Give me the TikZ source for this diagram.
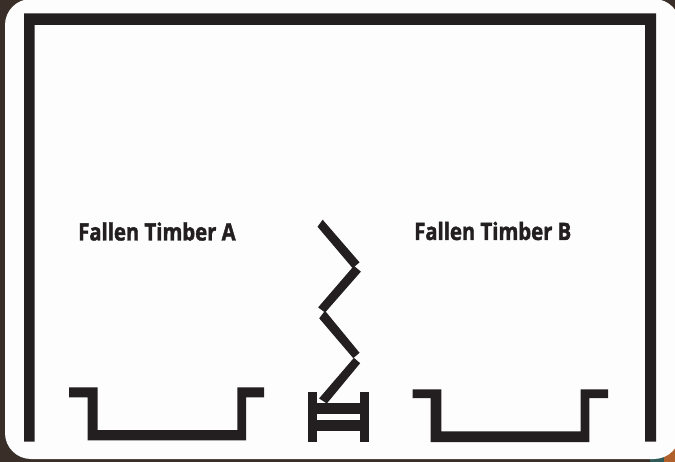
\documentclass[tikz,border=0pt]{standalone}
\usepackage{fontspec}
\setmainfont{Open Sans}
\newfontfamily\labelfont[FakeStretch=0.845,FakeBold=1.6]{Open Sans Bold}
\definecolor{ink}{HTML}{231F20}
\definecolor{bgdark}{HTML}{3A2E28}
\definecolor{paper}{HTML}{FDFDFD}
\definecolor{rust}{HTML}{B0602A}
\definecolor{tealdark}{HTML}{2F5A58}
\tikzset{
  solid ink/.style={fill=ink,draw=ink,line width=1.2pt,line join=miter},
  label text/.style={inner sep=0pt,anchor=base west,text=ink,font=\fontsize{24pt}{28pt}\labelfont}
}
\begin{document}
\begin{tikzpicture}[x=1pt,y=-1pt]
\useasboundingbox (0,0) rectangle (675,462);
\fill[bgdark] (0,0) rectangle (675,462);
\fill[rust] (662,440) rectangle (675,462);
\fill[tealdark] (650,452) rectangle (664,462);
\fill[paper,rounded corners=26pt] (5,-1) rectangle (680,459);
% frame
\fill[fill=ink] (24,441.5) -- (24,13.5) -- (656,13.5) -- (656,441.5) -- (645,441.5) -- (645,25) -- (34.5,25) -- (34.5,441.5) -- cycle;
% left channel
\fill[fill=ink] (69,387.3) -- (97.7,387.3) -- (97.7,430) -- (237.3,430) -- (237.3,387.3) -- (264,387.3) -- (264,397.3) -- (246,397.3) -- (246,440.3) -- (87.7,440.3) -- (87.7,397.3) -- (69,397.3) -- cycle;
% right channel
\fill[fill=ink] (412.7,389.3) -- (441.3,389.3) -- (441.3,431.3) -- (580.7,431.3) -- (580.7,389.3) -- (608,389.3) -- (608,398) -- (589.3,398) -- (589.3,442) -- (430.7,442) -- (430.7,398) -- (412.7,398) -- cycle;
% ladder
\fill[fill=ink] (308,392.3) rectangle (316.5,441.7);
\fill[fill=ink] (360.2,392.3) rectangle (369,441.7);
\fill[fill=ink] (316,402.5) rectangle (360.7,414.3);
\fill[fill=ink] (316,419.7) rectangle (360.7,431);
% zigzag
\filldraw[solid ink] (322.7,220.7) -- (318.3,226.7) -- (352.7,267.3) -- (358.7,262.3) -- cycle;
\filldraw[solid ink] (354,266.7) -- (360,271.7) -- (325,311.7) -- (319,307.3) -- cycle;
\filldraw[solid ink] (325,311.7) -- (320,318.3) -- (353.3,357.3) -- (358.7,352.7) -- cycle;
\filldraw[solid ink] (354,358.7) -- (359.3,363.3) -- (326.7,402.7) -- (320,398.3) -- cycle;
% labels
\node[label text] (a) at (78,240.5) {Fallen Timber A};
\node[label text] (b) at (414,240) {Fallen Timber B};
\end{tikzpicture}
\end{document}
